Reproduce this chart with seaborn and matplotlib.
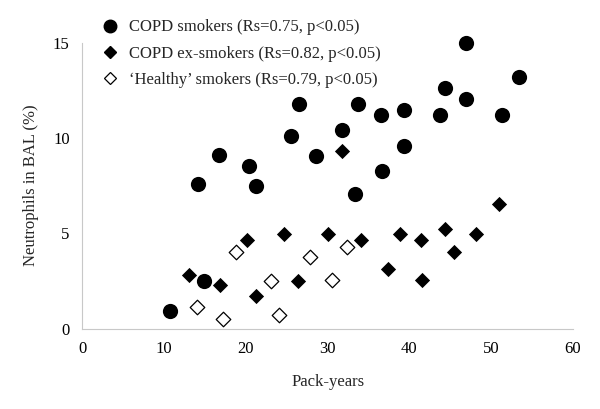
import seaborn as sns
import matplotlib.pyplot as plt
from matplotlib.lines import Line2D
import pandas as pd

# COPD smokers (filled circles)
smokers_x = [10.7, 14.2, 14.9, 16.7, 20.4, 21.2, 25.5, 26.5, 28.6, 31.7, 33.4,
             33.7, 36.5, 36.6, 39.3, 39.3, 43.7, 44.4, 46.9, 46.9, 51.3, 53.4]
smokers_y = [0.94, 7.6, 2.49, 9.09, 8.54, 7.48, 10.1, 11.76, 9.04, 10.4, 7.08,
             11.76, 11.19, 8.28, 11.48, 9.59, 11.19, 12.62, 12.04, 15.0, 11.19, 13.2]

# COPD ex-smokers (filled diamonds)
ex_x = [13.1, 16.9, 20.1, 21.3, 24.7, 26.4, 30.1, 31.8, 34.1, 37.4, 38.8,
        41.4, 41.6, 44.4, 45.5, 48.2, 51.0]
ex_y = [2.83, 2.32, 4.66, 1.73, 4.98, 2.53, 4.98, 9.32, 4.66, 3.16, 4.98,
        4.66, 2.54, 5.24, 4.0, 4.96, 6.54]

# 'Healthy' smokers (open diamonds)
healthy_x = [14.0, 17.2, 18.8, 23.1, 24.1, 27.8, 30.5, 32.4]
healthy_y = [1.12, 0.51, 4.01, 2.51, 0.71, 3.76, 2.58, 4.29]

labels = ["COPD smokers (Rs=0.75, p<0.05)",
          "COPD ex-smokers (Rs=0.82, p<0.05)",
          "\u2018Healthy\u2019 smokers (Rs=0.79, p<0.05)"]

sns.set_style("white")
plt.rcParams['font.family'] = ['Liberation Serif', 'DejaVu Serif']

fig = plt.figure(figsize=(6, 4.09), dpi=100)
ax = fig.add_axes([0.137, 0.196, 0.818, 0.70])

df1 = pd.DataFrame({"x": smokers_x, "y": smokers_y})
df2 = pd.DataFrame({"x": ex_x, "y": ex_y})
df3 = pd.DataFrame({"x": healthy_x, "y": healthy_y})

sns.scatterplot(data=df1, x="x", y="y", ax=ax, marker="o", s=120,
                color="black", edgecolor="black", linewidth=0, clip_on=False, zorder=3)
sns.scatterplot(data=df2, x="x", y="y", ax=ax, marker="D", s=60,
                color="black", edgecolor="black", linewidth=0, clip_on=False, zorder=3)
sns.scatterplot(data=df3, x="x", y="y", ax=ax, marker="D", s=55,
                color="white", edgecolor="black", linewidth=0.9, clip_on=False, zorder=3)

ax.set_xlim(0, 60)
ax.set_ylim(0, 15)
ax.set_xticks(range(0, 61, 10))
ax.set_yticks([0, 5, 10, 15])
ax.set_xlabel("Pack-years", fontsize=12, labelpad=12)
ax.set_ylabel("Neutrophils in BAL (%)", fontsize=12, labelpad=10)

for side in ["top", "right"]:
    ax.spines[side].set_visible(False)
for side in ["left", "bottom"]:
    ax.spines[side].set_color("#c8c8c8")
    ax.spines[side].set_linewidth(0.8)
ax.tick_params(axis="both", direction="out", length=4, width=0.8,
               color="#c8c8c8", labelsize=12, labelcolor="black", pad=5)

handles = [
    Line2D([], [], marker="o", linestyle="", markersize=9, color="black"),
    Line2D([], [], marker="D", linestyle="", markersize=6, color="black"),
    Line2D([], [], marker="D", linestyle="", markersize=6,
           markerfacecolor="white", markeredgecolor="black", markeredgewidth=0.9),
]
fig.legend(handles, labels, loc="upper left", bbox_to_anchor=(0.145, 0.985),
           frameon=False, fontsize=12, labelspacing=0.62, handletextpad=0.5,
           handlelength=1.2, borderpad=0.3)

fig.savefig("out.png", dpi=100)
